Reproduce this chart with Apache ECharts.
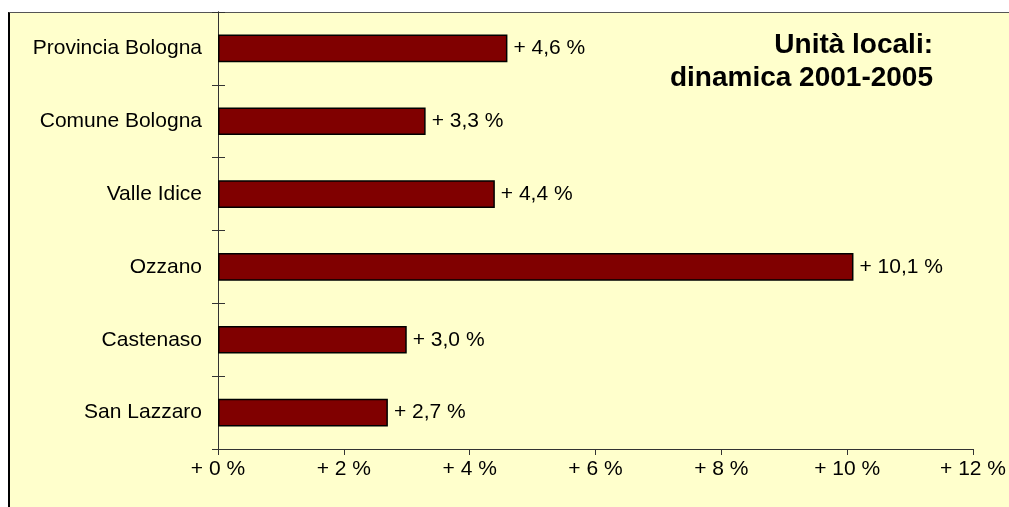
<!DOCTYPE html>
<html>
<head>
<meta charset="utf-8">
<script src="https://cdn.jsdelivr.net/npm/echarts@6/dist/echarts.min.js"></script>
<style>
  html, body { margin: 0; padding: 0; background: #ffffff; overflow: hidden; }
  #frame {
    position: absolute; left: 8px; top: 12px; right: 0; bottom: 0;
    background: #ffffcc;
    border-left: 2px solid #000;
    border-top: 1px solid #555;
  }
  #chart { position: absolute; left: 0; top: 0; width: 1009px; height: 507px; }
</style>
</head>
<body>
<div id="frame"></div>
<div id="chart"></div>
<script>
const categories = ["Provincia Bologna", "Comune Bologna", "Valle Idice", "Ozzano", "Castenaso", "San Lazzaro"];
const growth = [4.6, 3.3, 4.4, 10.1, 3.0, 2.7];
const xTicks = [0, 2, 4, 6, 8, 10, 12];
const titleLines = ["Unità locali:", "dinamica 2001-2005"];

const fontFamily = "'Liberation Sans', Arial, sans-serif";
const axisColor = "#333333";

const chart = echarts.init(document.getElementById("chart"));

const fmtPct = (v) => "+ " + v.toFixed(1).replace(".", ",") + " %";

chart.setOption({
  animation: false,
  grid: { left: 218, right: 28, top: 12, bottom: 58 },
  xAxis: {
    type: "value",
    min: xTicks[0],
    max: xTicks[xTicks.length - 1],
    interval: 2,
    axisLine: { show: true, lineStyle: { color: axisColor, width: 1 } },
    axisTick: { show: true, length: 6, lineStyle: { color: axisColor } },
    splitLine: { show: false },
    axisLabel: {
      color: "#000",
      fontFamily,
      fontSize: 21,
      margin: 10,
      formatter: (v) => "+ " + v + " %"
    }
  },
  yAxis: [
    {
      type: "category",
      data: categories,
      inverse: true,
      axisLine: { show: true, lineStyle: { color: axisColor, width: 1 } },
      axisTick: { show: true, length: 6, lineStyle: { color: axisColor } },
      axisLabel: { color: "#000", fontFamily, fontSize: 21, margin: 16 }
    },
    {
      type: "category",
      data: categories,
      inverse: true,
      position: "left",
      offset: 0,
      axisLine: { show: true, lineStyle: { color: axisColor, width: 1 } },
      axisTick: { show: true, inside: true, length: 7, lineStyle: { color: axisColor } },
      axisLabel: { show: false }
    }
  ],
  series: [
    {
      type: "bar",
      data: growth,
      barWidth: "38%",
      itemStyle: { color: "#800000", borderColor: "#000", borderWidth: 1.5 },
      label: {
        show: true,
        position: "right",
        distance: 6,
        color: "#000",
        fontFamily,
        fontSize: 21,
        formatter: (p) => fmtPct(p.value)
      }
    }
  ],
  graphic: [
    {
      type: "text",
      x: 933,
      y: 29,
      style: {
        text: titleLines.join("\n"),
        align: "right",
        fill: "#000",
        font: "bold 28px " + fontFamily,
        lineHeight: 33
      }
    }
  ]
});
</script>
</body>
</html>
